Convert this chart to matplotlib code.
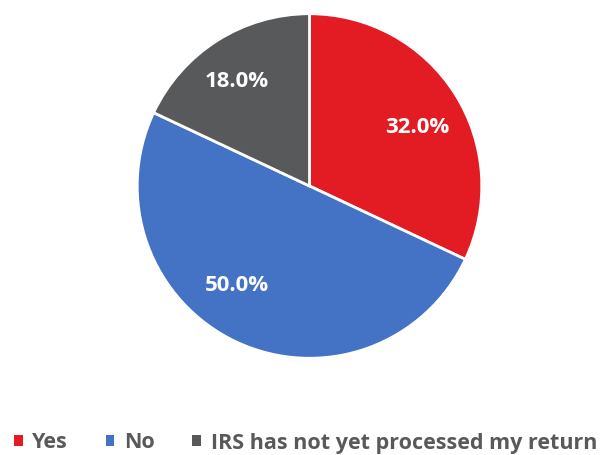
import matplotlib.pyplot as plt
from matplotlib.patches import Patch

labels = ["Yes", "No", "IRS has not yet processed my return"]
shares = [32.0, 50.0, 18.0]
colors = ["#E31B23", "#4472C4", "#58595B"]
# where each percentage label sits, in pie-radius units
label_xy = [(0.624, 0.339), (-0.422, -0.580), (-0.422, 0.609)]

plt.rcParams['font.family'] = ['Open Sans', 'DejaVu Sans']

W, H = 616, 455
fig = plt.figure(figsize=(W / 100, H / 100), dpi=100)

# square axes holding the pie, sized in pixels
cx, cy, r = 309.5, 186, 174
ax = fig.add_axes([(cx - r) / W, (H - cy - r) / H, 2 * r / W, 2 * r / H])
wedges, texts, autotexts = ax.pie(
    shares, colors=colors, startangle=90, counterclock=False,
    autopct="%.1f%%", radius=1,
    wedgeprops=dict(edgecolor="white", linewidth=2),
    textprops=dict(color="white", fontsize=16, fontweight="bold"))
for t, xy in zip(autotexts, label_xy):
    t.set_position(xy)
ax.set_xlim(-1.01, 1.01)
ax.set_ylim(-1.01, 1.01)
ax.set_aspect("equal")
ax.axis("off")

handles = [Patch(facecolor=c, edgecolor="none") for c in colors]
leg = fig.legend(handles, labels, loc="center left", bbox_to_anchor=(14 / W, 12 / H),
                 ncol=3, frameon=False, borderpad=0, borderaxespad=0,
                 handlelength=0.4, handleheight=0.4,
                 handletextpad=0.45, columnspacing=1.75,
                 prop=dict(size=15.5, weight="bold"))
for t in leg.get_texts():
    t.set_color("#595959")

fig.savefig("out.png", dpi=100)
